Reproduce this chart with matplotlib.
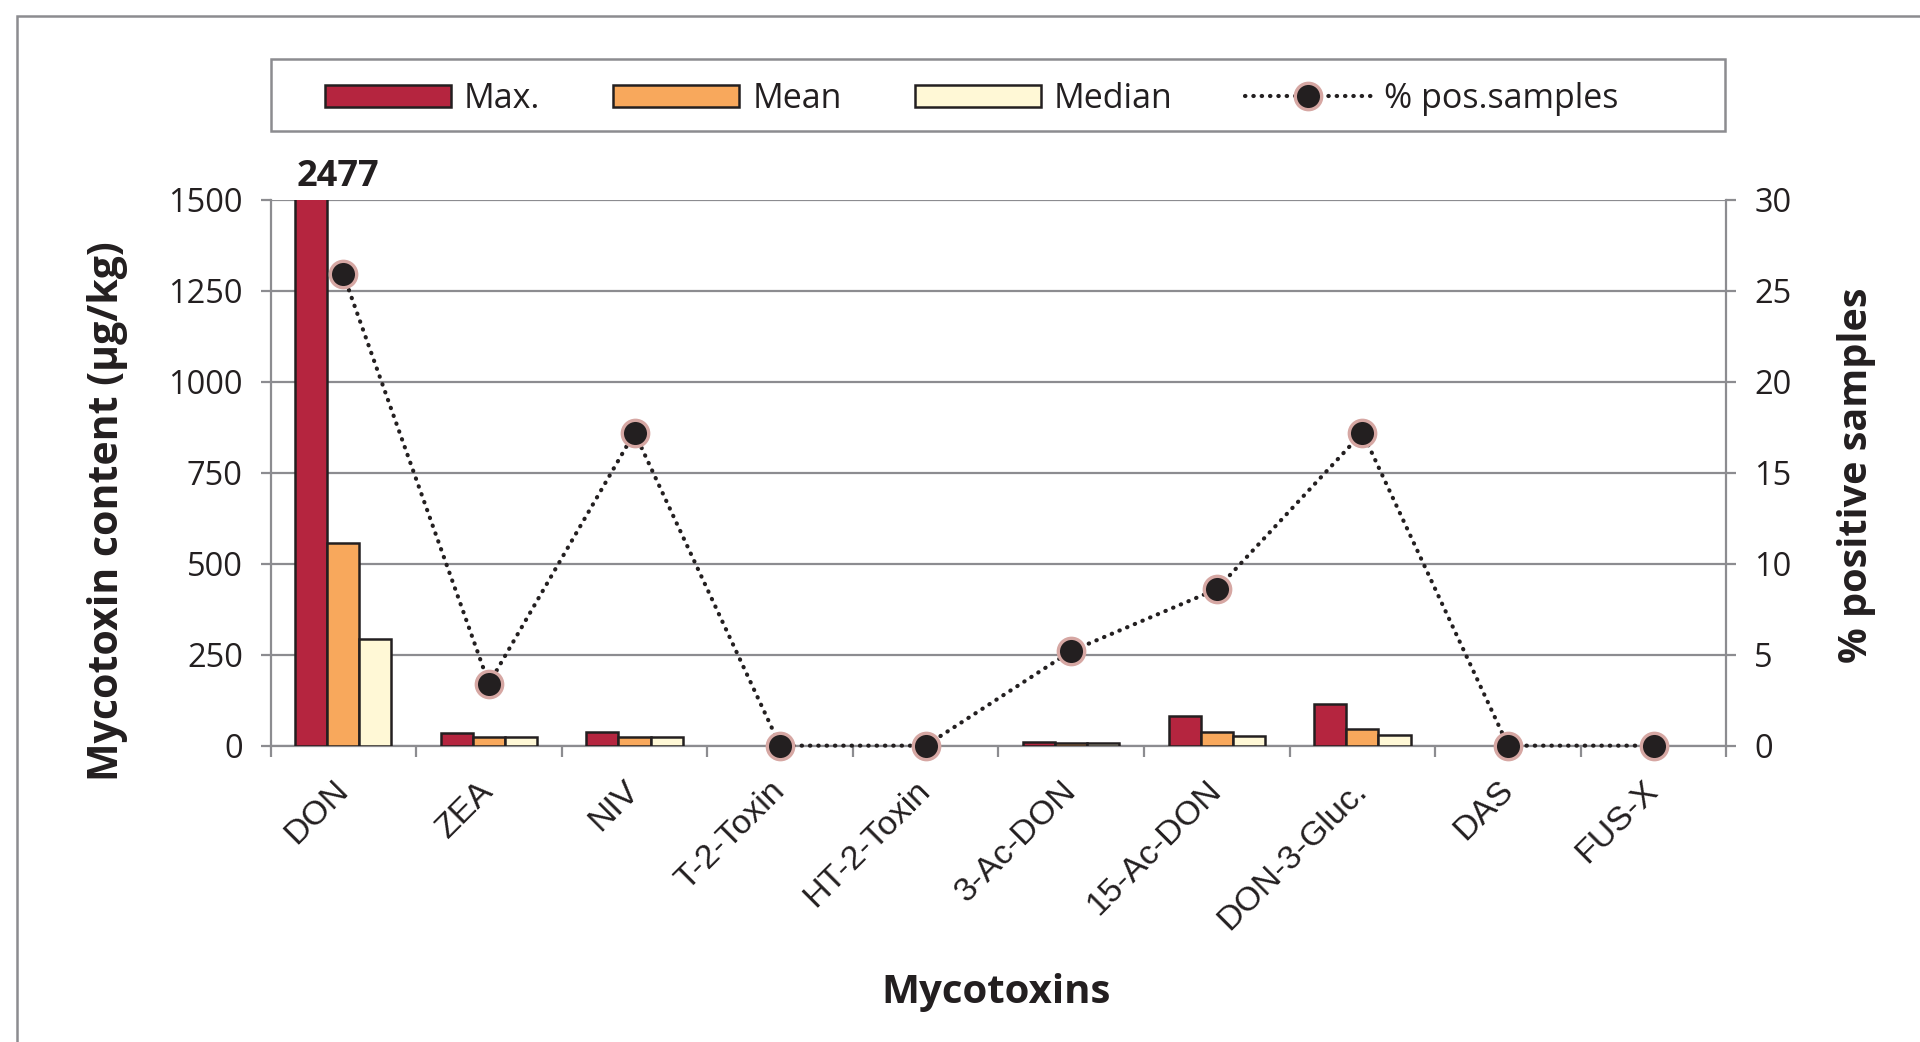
import numpy as np
import matplotlib
matplotlib.use("Agg")
import matplotlib.pyplot as plt
from matplotlib.patches import Rectangle
from matplotlib.ticker import FixedLocator, NullFormatter

plt.rcParams['font.family'] = ['Open Sans', 'DejaVu Sans']

toxins = ["DON", "ZEA", "NIV", "T-2-Toxin", "HT-2-Toxin", "3-Ac-DON",
          "15-Ac-DON", "DON-3-Gluc.", "DAS", "FUS-X"]
max_vals = [2477, 34, 37, 0, 0, 10, 82, 114, 0, 0]
mean_vals = [558, 24, 24, 0, 0, 7, 37, 46, 0, 0]
median_vals = [293, 24, 24, 0, 0, 7, 26, 29, 0, 0]
pct_pos = [25.9, 3.4, 17.2, 0, 0, 5.2, 8.6, 17.2, 0, 0]
max_label = "2477"

grey = "#8c8c90"
ink = "#231f20"
c_max, c_mean, c_med = "#b5253f", "#f8a85c", "#fff8d6"

fig = plt.figure(figsize=(19.2, 10.42), dpi=100)

# outer frame (right/bottom edges fall outside the picture)
fig.patches.append(Rectangle((17 / 1920, -0.1), 1.2, 1 - 16 / 1042 + 0.1,
                             transform=fig.transFigure, fill=False,
                             edgecolor=grey, lw=1.8))

ax = fig.add_axes([0.1409, 0.2844, 0.7583, 0.524])
x = np.arange(len(toxins))
w = 0.22
b1 = ax.bar(x - w, max_vals, w, color=c_max, edgecolor=ink, lw=1.8, label="Max.", zorder=3)
b2 = ax.bar(x, mean_vals, w, color=c_mean, edgecolor=ink, lw=1.8, label="Mean", zorder=3)
b3 = ax.bar(x + w, median_vals, w, color=c_med, edgecolor=ink, lw=1.8, label="Median", zorder=3)
# empty categories show no outline
for bars in (b1, b2, b3):
    for r in bars:
        if r.get_height() == 0:
            r.set_visible(False)

ax.set_xlim(-0.5, len(toxins) - 0.5)
ax.set_ylim(0, 1500)
ax.set_yticks([0, 250, 500, 750, 1000, 1250, 1500])
ax.yaxis.grid(True, color=grey, lw=1.6, zorder=0)
ax.set_axisbelow(True)
for s in ["left", "right", "bottom"]:
    ax.spines[s].set_color(grey)
    ax.spines[s].set_linewidth(1.6)
ax.spines["top"].set_visible(False)
ax.tick_params(axis="y", direction="out", length=7, width=1.6, color=grey,
               labelsize=23.5, pad=13, labelcolor=ink)

ax.set_xticks(x)
ax.set_xticklabels(toxins, rotation=45, ha="right", va="center",
                   rotation_mode="anchor", family=["Liberation Sans"], fontsize=24.5, color=ink)
ax.tick_params(axis="x", which="major", length=0, pad=29)
ax.xaxis.set_minor_locator(FixedLocator(np.arange(-0.5, len(toxins), 1.0)))
ax.xaxis.set_minor_formatter(NullFormatter())
ax.tick_params(axis="x", which="minor", direction="out", length=8, width=1.6, color=grey)
for lbl in ax.get_xticklabels():
    lbl.set_x(lbl.get_position()[0])

ax.text(-0.035, 1562, max_label, ha="center", va="center", fontsize=26,
        fontweight="bold", color=ink, clip_on=False)

ax2 = ax.twinx()
ax2.set_ylim(0, 30)
ax2.set_yticks([0, 5, 10, 15, 20, 25, 30])
for s in ["left", "right", "bottom", "top"]:
    ax2.spines[s].set_visible(False)
ax2.tick_params(axis="y", direction="out", length=7, width=1.6, color=grey,
                labelsize=23.5, pad=13, labelcolor=ink)
ln, = ax2.plot(x, pct_pos, color=ink, lw=3, linestyle=(0, (0.1, 1.9)),
               dash_capstyle="round", marker="o", markersize=19,
               markerfacecolor=ink, markeredgecolor="#d6a7a3", markeredgewidth=2.4,
               label="% pos.samples", clip_on=False, zorder=5)

# legend box
fig.patches.append(Rectangle((270.6 / 1920, 1 - 131 / 1042), (1725 - 270.6) / 1920, 72 / 1042,
                             transform=fig.transFigure, fill=False,
                             edgecolor=grey, lw=1.8))
fig.legend([b1, b2, b3, ln], ["Max.", "Mean", "Median", "% pos.samples"],
           loc="center left", bbox_to_anchor=(325 / 1920, 1 - 99 / 1042),
           ncol=4, frameon=False, fontsize=24.5, handlelength=3.7, handleheight=0.62,
           handletextpad=0.38, columnspacing=2.15, borderpad=0, borderaxespad=0,
           labelcolor=ink)

fig.text(108 / 1920, 1 - 511 / 1042, "Mycotoxin content (µg/kg)", rotation=90,
         ha="center", va="center", fontsize=29.5, fontweight="bold", color=ink)
fig.text(1857 / 1920, 1 - 475 / 1042, "% positive samples", rotation=90,
         ha="center", va="center", fontsize=28.5, fontweight="bold", color=ink)
fig.text(996 / 1920, 1 - 992 / 1042, "Mycotoxins", ha="center", va="center",
         fontsize=29, fontweight="bold", color=ink)

fig.savefig("out.png", dpi=100)
